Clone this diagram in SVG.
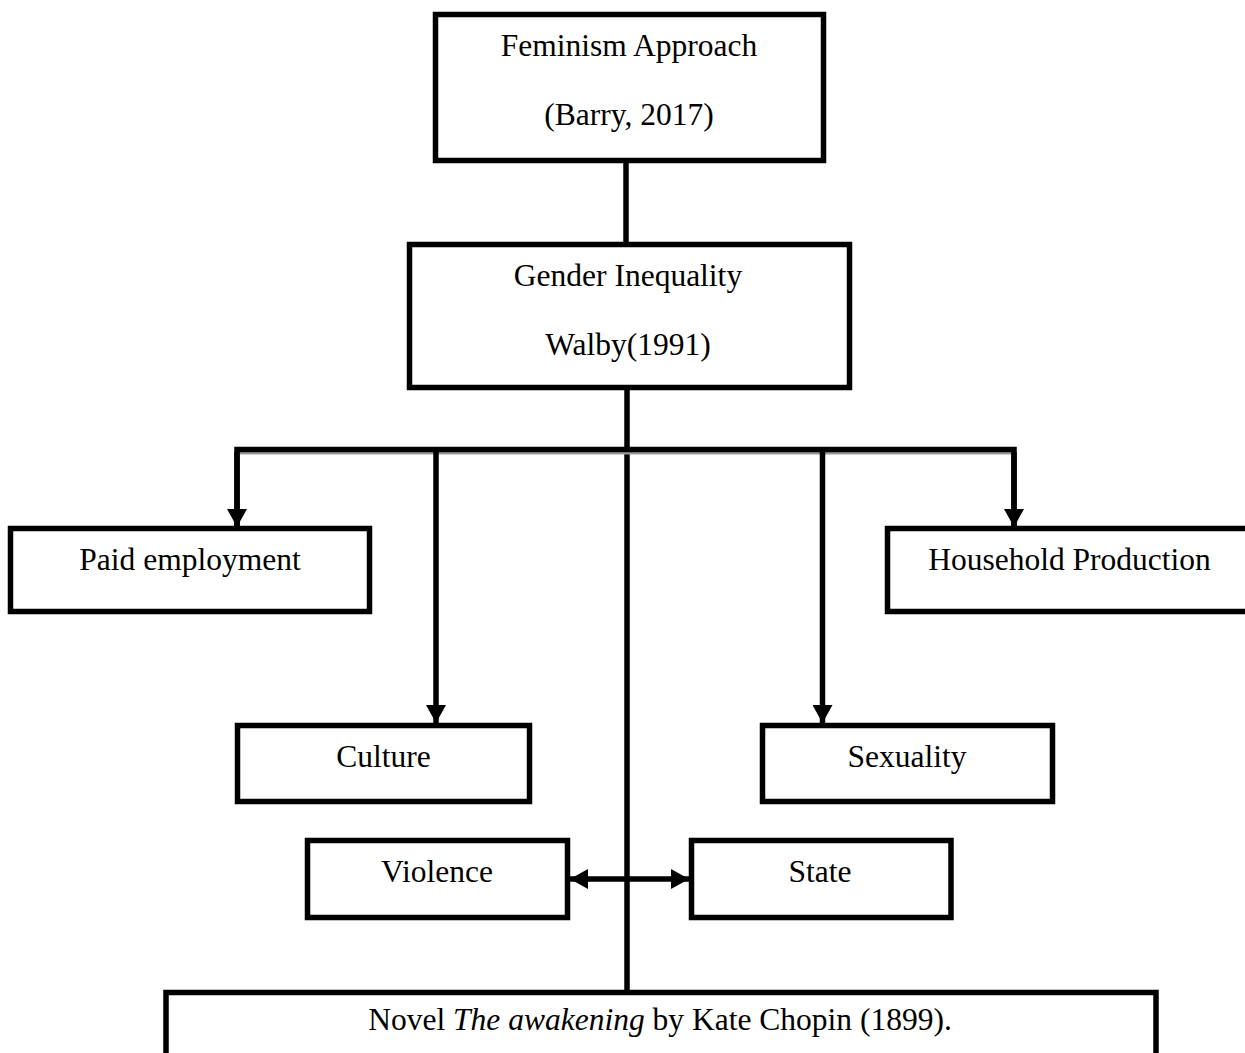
<svg xmlns="http://www.w3.org/2000/svg" width="1245" height="1053" viewBox="0 0 1245 1053">
<style>
.box{fill:#fff;stroke:#000;stroke-width:5.5}
.lbl{font-family:"Liberation Serif","Times New Roman",serif;font-size:31.5px;fill:#000;text-anchor:middle}
.ln{stroke:#000;stroke-width:5.5;fill:none}
</style>
<defs>
<marker id="ah" markerUnits="userSpaceOnUse" markerWidth="20" markerHeight="20" viewBox="0 0 18 20" refX="18" refY="10" orient="auto-start-reverse">
<path d="M0,0 L18,10 L0,20 Z" fill="#000"/>
</marker>
</defs>
<rect width="1245" height="1053" fill="#fff"/>
<g id="connectors">
<line class="ln" x1="626" y1="160" x2="626" y2="246"/>
<line class="ln" x1="627" y1="387" x2="627" y2="992"/>
<line x1="240" y1="453" x2="1014" y2="453" stroke="#9a9a9a" stroke-width="3"/>
<polyline class="ln" points="237,527 237,449.5 1014,449.5 1014,527" stroke-linejoin="miter"/>
<line class="ln" x1="237" y1="452" x2="237" y2="527" marker-end="url(#ah)"/>
<line class="ln" x1="1014" y1="452" x2="1014" y2="527" marker-end="url(#ah)"/>
<line class="ln" x1="436" y1="449.5" x2="436" y2="723" marker-end="url(#ah)"/>
<line class="ln" x1="822.5" y1="449.5" x2="822.5" y2="723" marker-end="url(#ah)"/>
<line class="ln" x1="570" y1="879" x2="689" y2="879" marker-start="url(#ah)" marker-end="url(#ah)"/>
</g>
<g id="feminism">
<rect class="box" x="435.5" y="14.5" width="388" height="146"/>
<text class="lbl" x="629" y="56">Feminism Approach</text>
<text class="lbl" x="629" y="125">(Barry, 2017)</text>
</g>
<g id="gender">
<rect class="box" x="409.5" y="244.5" width="440" height="143"/>
<text class="lbl" x="628" y="286">Gender Inequality</text>
<text class="lbl" x="628" y="355">Walby(1991)</text>
</g>
<g id="paid">
<rect class="box" x="10.5" y="528.5" width="359" height="83"/>
<text class="lbl" x="190" y="570">Paid employment</text>
</g>
<g id="household">
<rect class="box" x="887.5" y="528.5" width="364" height="83"/>
<text class="lbl" x="1069.5" y="570">Household Production</text>
</g>
<g id="culture">
<rect class="box" x="237.5" y="725.5" width="292" height="76"/>
<text class="lbl" x="383.5" y="767">Culture</text>
</g>
<g id="sexuality">
<rect class="box" x="762.5" y="725.5" width="290" height="76"/>
<text class="lbl" x="907" y="767">Sexuality</text>
</g>
<g id="violence">
<rect class="box" x="307.5" y="840.5" width="260" height="77"/>
<text class="lbl" x="437" y="882">Violence</text>
</g>
<g id="state">
<rect class="box" x="691.5" y="840.5" width="259.5" height="77"/>
<text class="lbl" x="820" y="882">State</text>
</g>
<g id="novel">
<rect class="box" x="166" y="992.5" width="990" height="80"/>
<text class="lbl" x="660" y="1030">Novel <tspan font-style="italic">The awakening</tspan> by Kate Chopin (1899).</text>
</g>
</svg>
